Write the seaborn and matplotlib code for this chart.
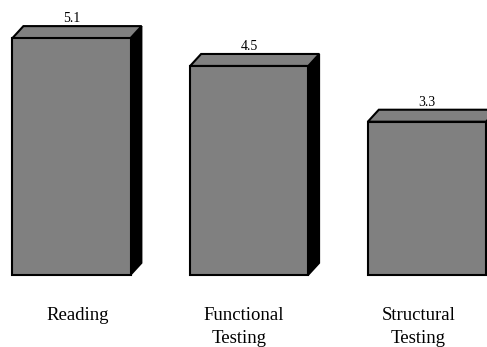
import matplotlib
matplotlib.use("Agg")
import matplotlib.pyplot as plt
from matplotlib.patches import Polygon
import seaborn as sns
import pandas as pd

# Chart data
categories = ["Reading", "Functional\nTesting", "Structural\nTesting"]
values = [5.1, 4.5, 3.3]

sns.set_theme(style="white")
plt.rcParams["font.family"] = ["Liberation Serif", "DejaVu Serif"]

W, H, DPI = 487, 347, 100
fig = plt.figure(figsize=(W / DPI, H / DPI), dpi=DPI)
ax = fig.add_axes([0, 0, 1, 1])

df = pd.DataFrame({"category": categories, "value": values})
face = "#808080"
sns.barplot(data=df, x="category", y="value", color=face, saturation=1,
            width=0.665, edgecolor="black", linewidth=1.5, ax=ax, zorder=3)

# Axis ranges (pixel geometry of the figure)
px_x = 177.7           # pixels per category step
px_y = 46.45           # pixels per value unit
base_px = 72           # baseline height above figure bottom
x0_px = 71.5           # centre of first bar
ax.set_xlim(-x0_px / px_x, (W - x0_px) / px_x)
ax.set_ylim(-base_px / px_y, (H - base_px) / px_y)
ax.set_axis_off()

# 3-D depth of each box
depth_x = 11 / px_x
depth_y = 12 / px_y

for bar in ax.patches[:len(values)]:
    xl = bar.get_x()
    xr = xl + bar.get_width()
    h = bar.get_height()
    side = Polygon([(xr, 0), (xr + depth_x, depth_y), (xr + depth_x, h + depth_y), (xr, h)],
                   closed=True, facecolor="black", edgecolor="black", linewidth=1.2, zorder=2)
    top = Polygon([(xl, h), (xl + depth_x, h + depth_y), (xr + depth_x, h + depth_y), (xr, h)],
                  closed=True, facecolor=face, edgecolor="black", linewidth=1.5, zorder=2)
    ax.add_patch(side)
    ax.add_patch(top)

# Value labels above each box
for i, v in enumerate(values):
    ax.annotate(f"{v:.1f}", xy=(i, v), xytext=(0, 16), textcoords="offset pixels",
                ha="center", va="baseline", fontsize=10, color="black")

# Category labels below the boxes (one text per line)
label_dx = [[6], [-5.5, -10], [-8.5, -8.5]]
line_base = [320, 343]
trans = ax.get_xaxis_transform()
for i, label in enumerate(categories):
    for j, line in enumerate(label.split("\n")):
        ax.text(i + label_dx[i][j] / px_x, (H - line_base[j]) / H, line, transform=trans,
                ha="center", va="baseline", fontsize=13.5, color="black")

fig.savefig("out.png", dpi=DPI)
